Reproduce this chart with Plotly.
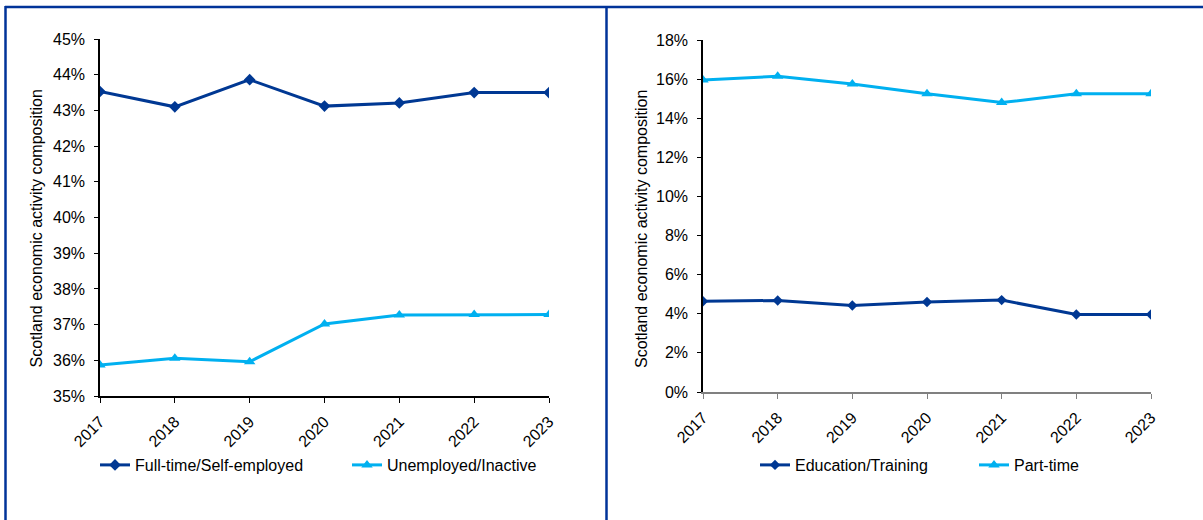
import plotly.graph_objects as go

years = ["2017", "2018", "2019", "2020", "2021", "2022", "2023"]
full_time = [43.53, 43.10, 43.86, 43.12, 43.21, 43.50, 43.50]
unemployed = [35.87, 36.06, 35.96, 37.02, 37.27, 37.28, 37.28]
education = [4.64, 4.68, 4.42, 4.60, 4.70, 3.96, 3.96]
part_time = [15.95, 16.15, 15.75, 15.25, 14.80, 15.25, 15.25]

W, H = 1203, 520
DARK = "#003893"
LIGHT = "#00B0F0"
FONT = "Liberation Sans, Arial, sans-serif"

def px(x):
    return x / W

def py(y):
    return 1 - y / H

fig = go.Figure()

fig.add_trace(go.Scatter(x=years, y=full_time, name="Full-time/Self-employed",
                         mode="lines+markers", line=dict(color=DARK, width=3),
                         marker=dict(symbol="diamond", size=9, color=DARK),
                         xaxis="x", yaxis="y", legend="legend"))
fig.add_trace(go.Scatter(x=years, y=unemployed, name="Unemployed/Inactive",
                         mode="lines+markers", line=dict(color=LIGHT, width=3),
                         marker=dict(symbol="triangle-up", size=10, color=LIGHT),
                         xaxis="x", yaxis="y", legend="legend2"))
fig.add_trace(go.Scatter(x=years, y=education, name="Education/Training",
                         mode="lines+markers", line=dict(color=DARK, width=3),
                         marker=dict(symbol="diamond", size=8, color=DARK),
                         xaxis="x2", yaxis="y2", legend="legend3"))
fig.add_trace(go.Scatter(x=years, y=part_time, name="Part-time",
                         mode="lines+markers", line=dict(color=LIGHT, width=3),
                         marker=dict(symbol="triangle-up", size=10, color=LIGHT),
                         xaxis="x2", yaxis="y2", legend="legend4"))

tickfont = dict(family=FONT, size=16, color="#000000")

def xaxis(domain, anchor, color):
    return dict(domain=domain, anchor=anchor, type="category", range=[0, 6],
                automargin=False,
                showgrid=False, zeroline=False, showline=True, linecolor=color,
                linewidth=2, ticks="outside", ticklen=5, tickcolor=color, tickwidth=1,
                ticklabelstandoff=3,
                tickangle=-45, tickfont=tickfont)

def yaxis(domain, anchor, rng, dtick):
    return dict(domain=domain, anchor=anchor, range=rng, dtick=dtick,
                automargin=False,
                showgrid=False, zeroline=False, showline=True, linecolor="#000000",
                linewidth=1.5, ticks="outside", ticklen=4, tickcolor="#000000",
                ticklabelstandoff=6,
                ticksuffix="%", tickfont=tickfont)

legend_common = dict(orientation="h", font=tickfont, bgcolor="rgba(0,0,0,0)",
                     xanchor="left", yanchor="middle", y=py(465), visible=True)

fig.update_layout(
    width=W, height=H,
    autosize=False,
    showlegend=True,
    margin=dict(l=0, r=0, t=0, b=0, pad=0, autoexpand=False),
    paper_bgcolor="white", plot_bgcolor="white",
    font=dict(family=FONT, size=16, color="#000000"),
    xaxis=xaxis([px(100), px(549)], "y", "#000000"),
    yaxis=yaxis([py(396), py(39)], "x", [35, 45], 1),
    xaxis2=xaxis([px(703), px(1151)], "y2", "#808080"),
    yaxis2=yaxis([py(392), py(40)], "x2", [0, 18], 2),
    legend=dict(x=px(95), **legend_common),
    legend2=dict(x=px(347), **legend_common),
    legend3=dict(x=px(755), **legend_common),
    legend4=dict(x=px(974), **legend_common),
    shapes=[
        dict(type="line", xref="paper", yref="paper", x0=px(5), x1=1.0, y0=py(7), y1=py(7),
             line=dict(color="#003399", width=2.5)),
        dict(type="line", xref="paper", yref="paper", x0=px(5.5), x1=px(5.5), y0=py(6), y1=0,
             line=dict(color="#003399", width=2.5)),
        dict(type="line", xref="paper", yref="paper", x0=px(606.5), x1=px(606.5), y0=py(6), y1=0,
             line=dict(color="#003399", width=2.5)),
    ],
    annotations=[
        dict(text="Scotland economic activity composition", xref="paper", yref="paper",
             x=px(35.5), y=py(229), textangle=-90, showarrow=False,
             xanchor="center", yanchor="middle",
             font=dict(family=FONT, size=16, color="#000000")),
        dict(text="Scotland economic activity composition", xref="paper", yref="paper",
             x=px(641), y=py(229), textangle=-90, showarrow=False,
             xanchor="center", yanchor="middle",
             font=dict(family=FONT, size=16, color="#000000")),
    ],
)

fig.write_html("out.html")
